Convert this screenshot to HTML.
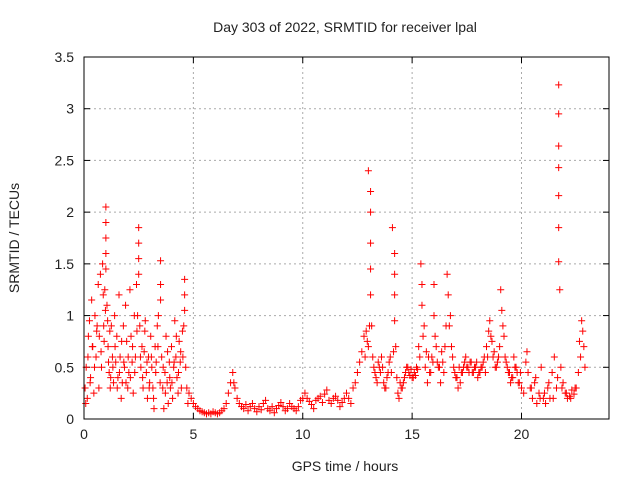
<!DOCTYPE html>
<html><head><meta charset="utf-8"><style>
body{margin:0;background:#fff;font-family:"Liberation Sans",sans-serif}
svg text{font-family:"Liberation Sans",sans-serif;font-size:14px;fill:#222}
</style></head><body>
<svg id="chart" width="640" height="480">
<text x="345" y="32" text-anchor="middle">Day 303 of 2022, SRMTID for receiver lpal</text>
<text x="345" y="471" text-anchor="middle">GPS time / hours</text>
<text transform="translate(19,238) rotate(-90)" text-anchor="middle">SRMTID / TECUs</text>
<g id="grid"></g><g id="ticks"></g><g id="marks"></g>
<rect x="84" y="57" width="525" height="362" fill="none" stroke="#000" stroke-width="1"/>
</svg>
<script>
const xTicks=[0,5,10,15,20];
const yTicks=[0,0.5,1,1.5,2,2.5,3,3.5];
const yTickLabels=["0","0.5","1","1.5","2","2.5","3","3.5"];
const times=[0.05,0.1,0.15,0.2,0.25,0.3,0.35,0.4,0.45,0.5,0.55,0.6,0.65,0.7,0.75,0.8,0.85,0.9,0.95,1.0,1.0,1.0,1.0,1.0,1.05,1.1,1.15,1.2,1.25,1.3,1.35,1.4,1.45,1.5,1.55,1.6,1.65,1.7,1.75,1.8,1.85,1.9,1.95,2.0,2.05,2.1,2.15,2.2,2.25,2.3,2.35,2.4,2.5,2.5,2.5,2.5,2.55,2.6,2.65,2.7,2.75,2.8,2.85,2.9,2.95,3.0,3.05,3.1,3.15,3.2,3.25,3.3,3.35,3.4,3.5,3.5,3.5,3.55,3.6,3.65,3.7,3.75,3.8,3.85,3.9,3.95,4.0,4.05,4.1,4.15,4.2,4.25,4.3,4.35,4.4,4.45,4.5,4.6,4.6,4.6,4.65,4.7,4.75,4.8,4.9,5.0,5.1,5.2,5.3,5.4,5.5,5.6,5.7,5.8,5.9,6.0,6.1,6.2,6.3,6.4,6.5,6.6,6.7,6.8,6.85,6.9,7.0,7.1,7.2,7.3,7.4,7.5,7.6,7.7,7.8,7.9,8.0,8.1,8.2,8.3,8.4,8.5,8.6,8.7,8.8,8.9,9.0,9.1,9.2,9.3,9.4,9.5,9.6,9.7,9.8,9.9,10.0,10.1,10.2,10.3,10.4,10.5,10.6,10.7,10.8,10.9,11.0,11.1,11.2,11.3,11.4,11.5,11.6,11.7,11.8,11.9,12.0,12.1,12.2,12.3,12.4,12.5,12.6,12.7,12.8,12.9,13.0,13.1,13.1,13.1,13.1,13.1,13.15,13.2,13.3,13.4,13.5,13.6,13.7,13.8,13.9,14.0,14.1,14.2,14.2,14.2,14.2,14.25,14.3,14.35,14.4,14.5,14.6,14.7,14.8,14.9,15.0,15.1,15.2,15.3,15.4,15.45,15.45,15.5,15.6,15.7,15.8,15.9,16.0,16.0,16.1,16.2,16.3,16.4,16.5,16.6,16.65,16.7,16.8,16.9,17.0,17.1,17.2,17.3,17.4,17.5,17.6,17.7,17.8,17.9,18.0,18.1,18.2,18.3,18.4,18.5,18.55,18.6,18.7,18.8,18.9,19.0,19.05,19.1,19.2,19.3,19.4,19.5,19.6,19.7,19.8,19.9,20.0,20.1,20.2,20.3,20.4,20.5,20.6,20.7,20.8,20.9,21.0,21.1,21.2,21.3,21.4,21.5,21.6,21.7,21.7,21.7,21.7,21.7,21.7,21.7,21.75,21.8,21.9,22.0,22.1,22.2,22.3,22.4,22.5,22.6,22.7,22.75,22.8,22.85,22.9];
const values=[0.3,0.5,0.2,0.8,0.95,0.4,1.15,0.7,0.25,1.0,0.6,0.9,1.3,0.8,1.4,0.5,1.5,0.9,1.25,2.05,1.9,1.75,1.6,1.45,1.1,0.7,0.45,0.3,0.9,0.6,0.35,1.0,0.55,0.8,0.4,1.2,0.6,0.2,0.35,0.9,0.5,1.1,0.75,0.3,0.45,1.25,0.8,0.55,0.25,1.0,0.6,1.3,1.85,1.7,1.55,1.4,0.9,0.5,0.7,0.3,0.65,0.95,0.45,0.2,0.6,0.35,0.8,0.5,0.3,0.1,0.7,0.55,0.9,1.0,1.53,1.3,1.15,0.6,0.3,0.1,0.45,0.8,0.35,0.15,0.55,0.3,0.7,0.2,0.5,0.95,0.6,0.4,0.25,0.75,0.55,0.3,0.85,1.35,1.2,1.05,0.5,0.3,0.15,0.25,0.2,0.15,0.12,0.1,0.08,0.07,0.06,0.05,0.06,0.05,0.07,0.06,0.05,0.06,0.08,0.1,0.15,0.25,0.35,0.45,0.35,0.3,0.2,0.15,0.12,0.1,0.14,0.08,0.12,0.15,0.1,0.07,0.12,0.09,0.15,0.18,0.1,0.08,0.12,0.06,0.1,0.13,0.16,0.12,0.08,0.1,0.15,0.12,0.1,0.08,0.12,0.18,0.2,0.25,0.2,0.17,0.14,0.1,0.18,0.2,0.22,0.16,0.24,0.28,0.18,0.15,0.2,0.22,0.18,0.12,0.16,0.2,0.25,0.2,0.15,0.3,0.35,0.45,0.55,0.65,0.8,0.85,2.4,2.2,2.0,1.7,1.45,1.2,0.9,0.6,0.45,0.35,0.5,0.6,0.35,0.3,0.45,0.6,1.85,1.6,1.4,1.2,0.95,0.7,0.4,0.25,0.2,0.3,0.35,0.45,0.5,0.42,0.4,0.45,0.5,0.7,1.5,1.3,1.1,0.8,0.5,0.35,0.45,0.6,1.3,1.0,0.7,0.5,0.35,0.55,0.7,1.4,1.2,0.9,0.7,0.5,0.4,0.3,0.35,0.45,0.55,0.5,0.45,0.55,0.45,0.5,0.4,0.45,0.5,0.6,0.7,0.85,0.95,0.8,0.6,0.5,0.55,0.7,1.25,1.05,0.8,0.55,0.45,0.35,0.4,0.5,0.45,0.35,0.3,0.25,0.55,0.45,0.3,0.2,0.35,0.15,0.25,0.5,0.2,0.15,0.3,0.2,0.45,0.6,0.3,3.23,2.95,2.64,2.43,2.16,1.85,1.52,1.25,0.5,0.35,0.25,0.2,0.22,0.28,0.24,0.3,0.45,0.6,0.95,0.85,0.7,0.5];
const times2=[0.08,0.18,0.28,0.38,0.48,0.58,0.68,0.78,0.88,0.92,0.98,1.08,1.12,1.18,1.22,1.32,1.42,1.52,1.62,1.72,1.82,1.92,2.02,2.12,2.22,2.32,2.42,2.45,2.58,2.68,2.78,2.88,2.98,3.08,3.18,3.28,3.38,3.48,3.62,3.72,3.82,3.92,4.02,4.12,4.22,4.32,4.42,4.52,4.56,12.85,12.95,13.0,13.05,13.25,13.35,13.45,13.55,13.65,13.75,13.85,13.95,14.05,14.15,14.45,14.55,14.65,14.75,14.85,14.95,15.05,15.15,15.25,15.35,15.55,15.65,15.75,15.85,15.95,16.05,16.15,16.25,16.35,16.45,16.55,16.75,16.85,16.95,17.05,17.15,17.25,17.35,17.45,17.55,17.65,17.75,17.85,17.95,18.05,18.15,18.25,18.35,18.45,18.65,18.75,18.85,18.95,19.15,19.25,19.35,19.45,19.55,19.65,19.75,19.85,19.95,20.25,20.45,20.65,20.85,21.05,21.25,21.45,21.65,21.85,22.05,22.25,22.45,22.65];
const values2=[0.15,0.6,0.35,0.7,0.5,0.85,0.3,0.65,1.2,0.75,1.05,0.95,0.55,0.85,0.4,0.5,0.7,0.3,0.45,0.75,0.55,0.35,0.6,0.4,0.7,0.45,0.85,1.0,0.6,0.4,0.85,0.55,0.3,0.6,0.2,0.45,0.7,0.35,0.5,0.25,0.65,0.4,0.35,0.55,0.8,0.45,0.65,0.6,0.9,0.6,0.75,0.7,0.9,0.5,0.4,0.55,0.45,0.5,0.3,0.4,0.55,0.45,0.65,0.35,0.3,0.4,0.5,0.45,0.48,0.4,0.42,0.48,0.6,0.9,0.65,0.6,0.45,0.55,0.8,0.55,0.5,0.65,0.45,0.9,1.0,0.6,0.45,0.4,0.5,0.45,0.5,0.6,0.5,0.55,0.45,0.5,0.55,0.45,0.5,0.55,0.45,0.6,0.75,0.65,0.5,0.6,0.9,0.6,0.5,0.45,0.4,0.6,0.5,0.35,0.45,0.65,0.3,0.4,0.2,0.25,0.35,0.2,0.4,0.3,0.25,0.2,0.3,0.75];
const NS="http://www.w3.org/2000/svg";
const X0=84,X1=609,Y0=419,Y1=57;
function xs(t){return X0+(t/24)*(X1-X0);}
function ys(v){return Y0-(v/3.5)*(Y0-Y1);}
const grid=document.getElementById('grid'),ticks=document.getElementById('ticks'),marks=document.getElementById('marks');
function mk(tag,attrs,parent){const e=document.createElementNS(NS,tag);for(const k in attrs)e.setAttribute(k,attrs[k]);parent.appendChild(e);return e;}
xTicks.forEach(t=>{const x=xs(t);
 if(t>0){const g=mk('line',{x1:x,x2:x,y1:Y0,y2:Y1,stroke:'#aaa','stroke-dasharray':'2,3'},grid);
 
 }
 mk('line',{x1:x,x2:x,y1:Y0,y2:Y0-6,stroke:'#000'},ticks);mk('line',{x1:x,x2:x,y1:Y1,y2:Y1+6,stroke:'#000'},ticks);
 const l=mk('text',{x:x,y:Y0+20,'text-anchor':'middle'},ticks);l.textContent=t;
 
 });
yTicks.forEach((v,i)=>{const y=ys(v);
 if(v>0&&v<3.5){const g=mk('line',{x1:X0,x2:X1,y1:y,y2:y,stroke:'#aaa','stroke-dasharray':'2,3'},grid);
 
 }
 mk('line',{x1:X0,x2:X0+6,y1:y,y2:y,stroke:'#000'},ticks);mk('line',{x1:X1,x2:X1-6,y1:y,y2:y,stroke:'#000'},ticks);
 const l=mk('text',{x:X0-10,y:y+5,'text-anchor':'end'},ticks);l.textContent=yTickLabels[i];
 
 });
function plot(ts,vs){ts.forEach((t,i)=>{const x=xs(t),y=ys(vs[i]);
 const p=mk('path',{d:`M${x-3.5},${y}H${x+3.5}M${x},${y-3.5}V${y+3.5}`,stroke:'#f00','stroke-width':1},marks);
 
 });}
plot(times,values);
plot(times2,values2);
</script>
</body></html>
